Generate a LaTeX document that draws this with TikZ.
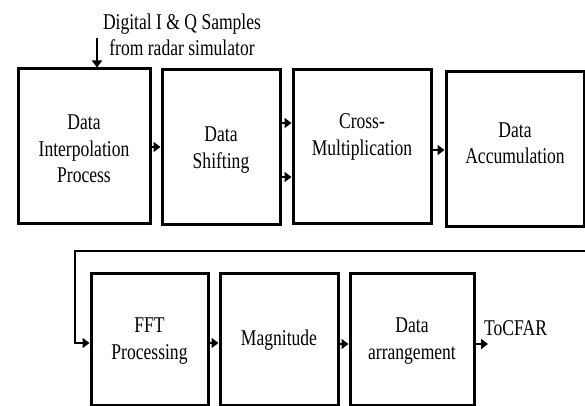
\documentclass[tikz,border=0pt]{standalone}
\usepackage{fontspec}
\setmainfont{Liberation Serif}[FakeStretch=0.78]
\usetikzlibrary{arrows.meta}
\begin{document}
\begin{tikzpicture}[x=1pt,y=-1pt,
  blk/.style={draw=black, line width=3pt, rectangle, inner sep=0pt},
  lbl/.style={align=center, inner sep=0pt, font=\fontsize{22.5}{26.5}\selectfont},
  arr/.style={line width=2.8pt, -{Triangle[length=7pt,width=10pt]}}]
\useasboundingbox (0,0) rectangle (585,406);

% top row of processing blocks
\node[blk, minimum width=132pt, minimum height=154pt] (b1) at (84,146) {};
\node[blk, minimum width=118pt, minimum height=154pt] (b2) at (221,147) {};
\node[blk, minimum width=138pt, minimum height=153pt] (b3) at (362,146.5) {};
\node[blk, minimum width=138pt, minimum height=154pt] (b4) at (515,149) {};

% bottom row of processing blocks
\node[blk, minimum width=117pt, minimum height=132pt] (b5) at (149.5,339) {};
\node[blk, minimum width=118pt, minimum height=132pt] (b6) at (279,339) {};
\node[blk, minimum width=124pt, minimum height=132pt] (b7) at (412,339) {};

% block captions
\node[lbl] (t1) at ([yshift=-3pt]b1.center) {Data\\Interpolation\\Process};
\node[lbl] (t2) at ([yshift=-3pt]b2.center) {Data\\Shifting};
\node[lbl] (t3) at ([yshift=9.5pt]b3.center) {Cross-\\Multiplication};
\node[lbl] (t4) at ([yshift=6pt]b4.center) {Data\\Accumulation};
\node[lbl] (t5) at ([yshift=-2pt]b5.center) {FFT\\Processing};
\node[lbl] (t6) at ([yshift=-1pt]b6.center) {Magnitude};
\node[lbl] (t7) at ([yshift=-2pt]b7.center) {Data\\arrangement};

% input and output labels
\node[lbl] (src) at (182,35) {Digital I \& Q Samples\\from radar simulator};
\node[lbl, anchor=west] (out) at (484,328) {ToCFAR};

% input arrow
\coordinate (in) at (97,38);
\draw[arr] (in) -- (in |- b1.north);

% top row connections
\draw[arr] (b1.east |- 0,147) -- (b2.west |- 0,147);
\draw[arr] (b2.east |- 0,123) -- (b3.west |- 0,123);
\draw[arr] (b2.east |- 0,177) -- (b3.west |- 0,177);
\draw[arr] (b3.east |- 0,150) -- (b4.west |- 0,150);

% wrap-around to the second row
\coordinate (fb) at (588,251);
\coordinate (fbc) at (75,251);
\draw[arr] (fb) -- (fbc) -- (fbc |- 0,343) -- (b5.west |- 0,343);

% bottom row connections
\draw[arr] (b5.east |- 0,343) -- (b6.west |- 0,343);
\draw[arr] (b6.east |- 0,344) -- (b7.west |- 0,344);
\coordinate (end) at (488,344);
\draw[arr] (b7.east |- end) -- (end);
\end{tikzpicture}
\end{document}
